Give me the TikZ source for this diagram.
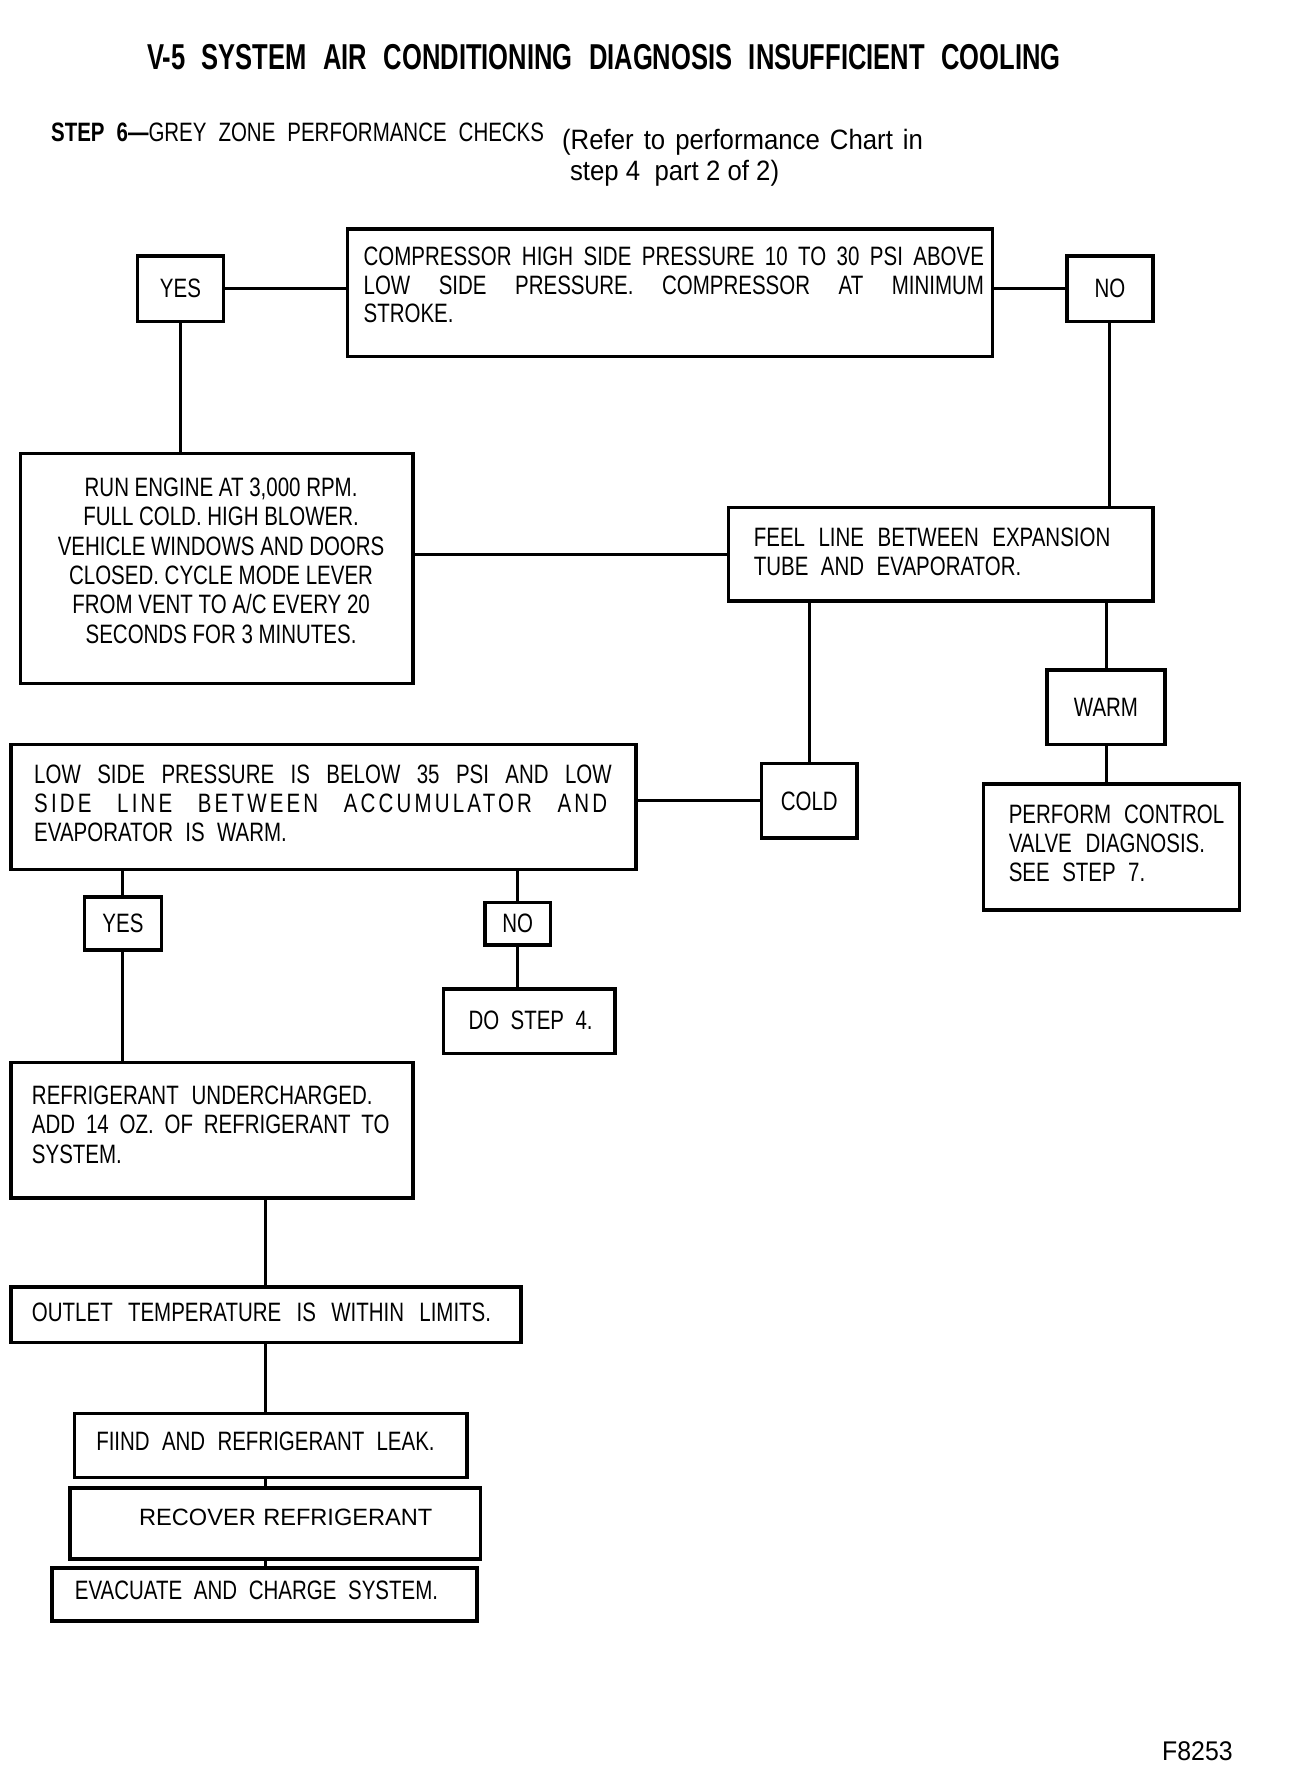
\documentclass[tikz,border=0pt]{standalone}
\usepackage{fontspec}
\setmainfont{Liberation Sans}
\newfontfamily\cn[FakeStretch=0.77]{Liberation Sans}
\newfontfamily\tfam[FakeStretch=0.71]{Liberation Sans}
\newfontfamily\rf[FakeStretch=0.92]{Liberation Sans}
\newfontfamily\hv{Liberation Sans}
\newlength\uu \setlength\uu{0.564pt}
\newcommand\jl[2]{\makebox[#1\uu][s]{#2}}
\newcommand\bx[6]{\node[box,minimum width={(#4-#2)*0.564pt},minimum height={(#5-#3)*0.564pt}] (#1) at ({(#2+#4)/2},{(#3+#5)/2}) {#6};}
\tikzset{
  box/.style={draw,line width=1.8pt,inner sep=0pt,font=\cn\fontsize{13.3}{14}\selectfont},
  conn/.style={line width=1.5pt},
  txt/.style={inner sep=0pt,anchor=north west,align=left,font=\cn\fontsize{13.3}{14.4}\selectfont},
}
\begin{document}
\begin{tikzpicture}[x=0.564pt,y=-0.564pt]
\useasboundingbox[fill=white] (0,0) rectangle (1149,1567.4);

% title and header
\node[inner sep=0pt,anchor=north west,font=\tfam\bfseries\fontsize{18}{20}\selectfont] (title) at (130,39)
  {\jl{810}{V-5 SYSTEM AIR CONDITIONING DIAGNOSIS INSUFFICIENT COOLING}};
\node[txt] (step) at (45,109) {\jl{437}{\textbf{STEP 6—}GREY ZONE PERFORMANCE CHECKS}};
\node[inner sep=0pt,anchor=north west,align=left,font=\rf\fontsize{14}{15.5}\selectfont] (refer) at (498,114)
  {\jl{320}{(Refer to performance Chart in}\\ \hspace{7\uu}step 4\ \ part 2 of 2)};

% boxes
\bx{comp}{308}{203}{880}{316}{}
\bx{yes1}{122}{227}{198}{285}{YES}
\bx{no1}{946}{227}{1022}{285}{NO}
\bx{run}{18}{402}{366}{606}{}
\bx{feel}{646}{450}{1022}{533}{}
\bx{warm}{928}{594}{1033}{660}{WARM}
\bx{low}{10}{660}{564}{771}{}
\bx{cold}{675}{677}{760}{743}{COLD}
\bx{perf}{872}{695}{1099}{807}{}
\bx{yes2}{75}{795}{143}{842}{YES}
\bx{no2}{430}{800}{488}{838}{NO}
\bx{dostep}{393}{877}{545}{934}{}
\bx{ref}{10}{942}{366}{1062}{}
\bx{out}{10}{1141}{462}{1190}{}
\bx{find}{66}{1253}{414}{1310}{}
\bx{rec}{62}{1319}{426}{1382}{}
\bx{evac}{46}{1390}{423}{1437}{}

% texts
\node[txt,font=\cn\fontsize{13.3}{14.2}\selectfont] (tcomp) at (322,219)
  {\jl{550}{COMPRESSOR HIGH SIDE PRESSURE 10 TO 30 PSI ABOVE}\\
   \jl{550}{LOW SIDE PRESSURE. COMPRESSOR AT MINIMUM}\\
   STROKE.};
\node[txt,anchor=north,align=center,font=\cn\fontsize{13.3}{14.66}\selectfont] (trun) at (196,423.5)
  {RUN ENGINE AT 3,000 RPM.\\
   FULL COLD. HIGH BLOWER.\\
   VEHICLE WINDOWS AND DOORS\\
   CLOSED. CYCLE MODE LEVER\\
   FROM VENT TO A/C EVERY 20\\
   SECONDS FOR 3 MINUTES.};
\node[txt] (tfeel) at (668,467.5)
  {\jl{316}{FEEL LINE BETWEEN EXPANSION}\\
   \jl{237}{TUBE AND EVAPORATOR.}};
\node[txt] (tperf) at (894,713.5)
  {\jl{191}{PERFORM CONTROL}\\
   \jl{174}{VALVE DIAGNOSIS.}\\
   \jl{121}{SEE STEP 7.}};
\node[txt,font=\cn\fontsize{13.3}{14.66}\selectfont] (tlow) at (30,677.5)
  {\jl{512}{LOW SIDE PRESSURE IS BELOW 35 PSI AND LOW}\\
   \jl{508}{\addfontfeature{LetterSpace=12}SIDE LINE BETWEEN ACCUMULATOR AND}\\
   \jl{224}{EVAPORATOR IS WARM.}};
\node[txt] (tdo) at (415,895.5) {\jl{110}{DO STEP 4.}};
\node[txt,font=\cn\fontsize{13.3}{14.66}\selectfont] (tref) at (28,962.5)
  {\jl{302}{REFRIGERANT UNDERCHARGED.}\\
   \jl{317}{ADD 14 OZ. OF REFRIGERANT TO}\\
   SYSTEM.};
\node[txt] (tout) at (28,1154.5) {\jl{407}{OUTLET TEMPERATURE IS WITHIN LIMITS.}};
\node[txt] (tfind) at (85,1269.5) {\jl{300}{FIIND AND REFRIGERANT LEAK.}};
\node[txt,font=\hv\fontsize{11.8}{14}\selectfont] (trec) at (123,1337.5) {\jl{260}{RECOVER REFRIGERANT}};
\node[txt] (tevac) at (66,1401.5) {\jl{322}{EVACUATE AND CHARGE SYSTEM.}};
\node[inner sep=0pt,anchor=north west,font=\rf\fontsize{13.5}{15}\selectfont] (fig) at (1030,1544) {F8253};

% connectors
\coordinate (xa) at (235,0);
\draw[conn] (yes1.east) -- (yes1.east -| comp.west);
\draw[conn] (no1.west) -- (no1.west -| comp.east);
\draw[conn] (yes1.south) -- (yes1.south |- run.north);
\draw[conn] (no1.south) -- (no1.south |- feel.north);
\draw[conn] (feel.west) -- (feel.west -| run.east);
\draw[conn] (cold.north) -- (cold.north |- feel.south);
\draw[conn] (warm.north) -- (warm.north |- feel.south);
\draw[conn] (warm.south) -- (warm.south |- perf.north);
\draw[conn] (cold.west) -- (cold.west -| low.east);
\draw[conn] (yes2.north) -- (yes2.north |- low.south);
\draw[conn] (yes2.south) -- (yes2.south |- ref.north);
\draw[conn] (no2.north) -- (no2.north |- low.south);
\draw[conn] (no2.south) -- (no2.south |- dostep.north);
\draw[conn] (ref.south -| xa) -- (out.north -| xa);
\draw[conn] (out.south -| xa) -- (find.north -| xa);
\draw[conn] (find.south -| xa) -- (rec.north -| xa);
\draw[conn] (rec.south -| xa) -- (evac.north -| xa);
\end{tikzpicture}
\end{document}
